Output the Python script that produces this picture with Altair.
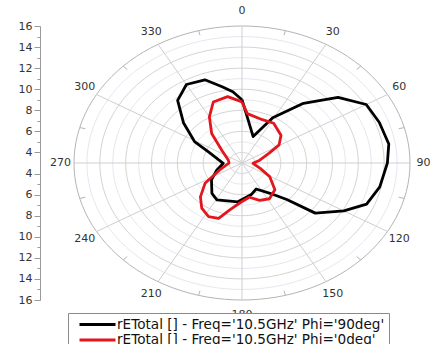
import altair as alt
import pandas as pd

R_MIN, R_MAX = 3, 16
SPAN = R_MAX - R_MIN

series_names = [
    "rETotal [] - Freq='10.5GHz' Phi='90deg'",
    "rETotal [] - Freq='10.5GHz' Phi='0deg'",
]
series_colors = ["#000000", "#e3161d"]

# Phi = 90deg (black)
theta_90 = [0, 4, 19, 29, 40, 50, 60, 70, 81, 90, 102, 112, 120, 130, 135,
            143, 156, 167, 185, 209, 219, 236, 251, 269, 292, 299, 310, 320,
            330, 340, 348, 354]
r_90 = [9.0, 7.7, 5.65, 7.9, 10.4, 12.7, 14.1, 14.3, 14.5, 14.25, 13.9, 13.4,
        12.1, 10.4, 7.9, 6.6, 5.7, 6.1, 6.7, 7.0, 6.7, 5.85, 5.07, 4.45, 5.8,
        7.2, 8.9, 10.75, 11.6, 11.4, 10.4, 9.8]

# Phi = 0deg (red)
theta_0 = [0, 5, 21, 33, 49, 59, 66, 79, 92, 110, 121, 135, 148, 159, 170,
           181, 192, 199, 207, 216, 225, 236, 249, 270, 285, 308, 320, 330,
           339, 350]
r_0 = [8.8, 7.7, 7.4, 7.5, 7.0, 6.35, 5.3, 4.4, 3.85, 4.5, 5.5, 6.6, 7.0,
       6.8, 6.3, 6.7, 7.55, 8.55, 8.7, 8.3, 7.55, 6.45, 4.85, 4.0, 4.1, 5.0,
       6.65, 8.05, 9.2, 9.4]

angle_labels = [0, 30, 60, 90, 120, 150, 180, 210, 240, 270, 300, 330]
minor_angle_ticks = [15, 45, 75, 105, 135, 165, 195, 225, 255, 285, 315, 345]
major_rings = [4, 6, 8, 10, 12, 14]
minor_rings = [5, 7, 9, 11, 13, 15]
outer_ring = [16]
axis_major_values = [-13, -11, -9, -7, -5, -3, -1, 1, 3, 5, 7, 9, 11, 13]
axis_minor_values = [-12, -10, -8, -6, -4, -2, 2, 4, 6, 8, 10, 12]

FONT = "DejaVu Sans"

# ---- tables built from the arrays above ----
rows = []
for name, th, rr in [(series_names[0], theta_90, r_90),
                     (series_names[1], theta_0, r_0)]:
    pts = list(zip(th, rr)) + [(th[0] + 360, rr[0])]
    for i, (t, r) in enumerate(pts):
        rows.append(dict(series=name, order=i, theta=t, r=r))
curves = pd.DataFrame(rows)

def ring_table(rings):
    out = []
    for r in rings:
        for i, t in enumerate(range(0, 361, 3)):
            out.append(dict(ring=r, order=i, theta=t, r=r))
    return pd.DataFrame(out)

polar_x = f"(datum.r - {R_MIN}) * sin(datum.theta * PI / 180)"
polar_y = f"(datum.r - {R_MIN}) * cos(datum.theta * PI / 180)"

xs = alt.Scale(domain=[-SPAN, SPAN], nice=False, zero=False)
ys = alt.Scale(domain=[-SPAN, SPAN], nice=False, zero=False)

major_axis = alt.Axis(
    orient="left", values=axis_major_values,
    labelExpr=f"format(abs(datum.value) + {R_MIN}, 'd')",
    tickSize=6, offset=34, grid=False, title=None,
    domainColor="#9a9a9a", tickColor="#9a9a9a",
    labelColor="#333333", labelFontSize=11, labelFont=FONT,
    labelPadding=2,
)
minor_axis = alt.Axis(
    orient="left", values=axis_minor_values, labels=False,
    tickSize=3, offset=34, grid=False, title=None, domain=False,
    tickColor="#9a9a9a",
)

def ring_chart(rings, color, axis):
    return alt.Chart(ring_table(rings)).transform_calculate(
        px=polar_x, py=polar_y
    ).mark_line(color=color, strokeWidth=1).encode(
        x=alt.X("px:Q", scale=xs, axis=None),
        y=alt.Y("py:Q", scale=ys, axis=axis),
        detail="ring:N",
        order="order:Q",
    )

minor_layer = ring_chart(minor_rings, "#e3e8f1", minor_axis)
major_layer = ring_chart(major_rings, "#d4d4d4", major_axis)
outer_layer = ring_chart(outer_ring, "#b4b4b4", None)

spokes = alt.Chart(pd.DataFrame({"theta": angle_labels})).transform_calculate(
    x0="0", y0="0",
    px=f"{SPAN} * sin(datum.theta * PI / 180)",
    py=f"{SPAN} * cos(datum.theta * PI / 180)",
).mark_rule(color="#cfcfcf", strokeWidth=1).encode(
    x=alt.X("x0:Q", scale=xs, axis=None),
    y=alt.Y("y0:Q", scale=ys, axis=None),
    x2="px:Q", y2="py:Q",
)

ticks = alt.Chart(pd.DataFrame({"theta": minor_angle_ticks})).transform_calculate(
    x0=f"{SPAN - 0.45} * sin(datum.theta * PI / 180)",
    y0=f"{SPAN - 0.45} * cos(datum.theta * PI / 180)",
    px=f"{SPAN} * sin(datum.theta * PI / 180)",
    py=f"{SPAN} * cos(datum.theta * PI / 180)",
).mark_rule(color="#b4b4b4", strokeWidth=1).encode(
    x=alt.X("x0:Q", scale=xs, axis=None),
    y=alt.Y("y0:Q", scale=ys, axis=None),
    x2="px:Q", y2="py:Q",
)

lines = alt.Chart(curves).transform_calculate(
    px=polar_x, py=polar_y
).mark_line(strokeWidth=2.8, strokeJoin="round").encode(
    x=alt.X("px:Q", scale=xs, axis=None),
    y=alt.Y("py:Q", scale=ys, axis=None),
    color=alt.Color(
        "series:N",
        scale=alt.Scale(domain=series_names, range=series_colors),
        sort=series_names,
        legend=alt.Legend(
            orient="none", legendX=-6, legendY=287, title=None,
            symbolType="M0,0H6", symbolSize=144, symbolStrokeWidth=3,
            labelOffset=30, labelFontSize=13.6, labelFont=FONT,
            labelColor="#111111", labelLimit=500,
            strokeColor="#8a8a8a", fillColor="#ffffff", padding=4,
            rowPadding=0.5, direction="vertical",
        ),
    ),
    detail="series:N",
    order="order:Q",
)

labels = alt.Chart(pd.DataFrame({"theta": angle_labels})).transform_calculate(
    px=f"14.05 * sin(datum.theta * PI / 180)",
    py=f"14.4 * cos(datum.theta * PI / 180)",
    label="toString(datum.theta)",
).mark_text(fontSize=11, font=FONT, color="#333333",
            align="center", baseline="middle").encode(
    x=alt.X("px:Q", scale=xs, axis=None),
    y=alt.Y("py:Q", scale=ys, axis=None),
    text="label:N",
)

chart = alt.layer(
    minor_layer, major_layer, outer_layer, spokes, ticks, lines, labels
).resolve_scale(y="independent").properties(
    width=336, height=274,
    autosize=alt.AutoSizeParams(type="none"),
    padding={"left": 74, "top": 26, "right": 22, "bottom": 44},
    background="#ffffff",
).configure_view(strokeWidth=0)

chart.save("out.html", embed_options={"renderer": "svg", "actions": False})
